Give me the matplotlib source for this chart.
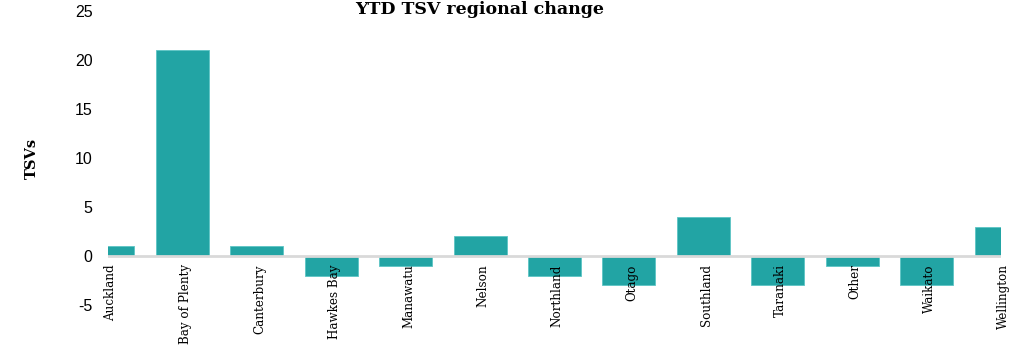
import matplotlib
matplotlib.use("Agg")
import matplotlib.pyplot as plt

# regional year-to-date change in TSVs
regions = ["Auckland", "Bay of Plenty", "Canterbury", "Hawkes Bay", "Manawatu",
           "Nelson", "Northland", "Otago", "Southland", "Taranaki", "Other",
           "Waikato", "Wellington"]
changes = [1, 21, 1, -2, -1, 2, -2, -3, 4, -3, -1, -3, 3]
y_ticks = [-5, 0, 5, 10, 15, 20, 25]

BAR_COLOR = "#22a4a4"
SERIF = ["DejaVu Serif"]
W, H = 1024, 346

fig = plt.figure(figsize=(W / 100, H / 100), dpi=100)
ax = fig.add_axes([108 / W, (H - 305) / H, (1001 - 108) / W, (305 - 11) / H])

x = list(range(len(regions)))
ax.bar(x, changes, width=0.71, color=BAR_COLOR, edgecolor="#5cc4c4",
       linewidth=0.6, zorder=2)
ax.axhline(0, color="#d9d9d9", lw=2, zorder=3)

ax.set_xlim(0, len(regions) - 1)
ax.set_ylim(-5, 25)
ax.set_yticks(y_ticks)
ax.set_yticklabels([str(v) for v in y_ticks], fontsize=11.5,
                   family="Liberation Sans")
ax.tick_params(axis="y", length=0, pad=11)
ax.set_xticks([])
for s in ax.spines.values():
    s.set_visible(False)

# category names hang from the zero line
for i, name in enumerate(regions):
    ax.annotate(name, (i, 0), xytext=(2, -6), textcoords="offset points",
                rotation=90, ha="center", va="top", fontsize=8.6,
                family=SERIF, zorder=4)

ax.set_ylabel("TSVs", fontsize=10.5, fontweight="bold", family=SERIF,
              labelpad=26)
fig.text(480 / W, 1 - 10 / H, "YTD TSV regional change", ha="center",
         va="center", fontsize=12.5, fontweight="bold", family=SERIF)

fig.savefig("out.png", dpi=100)
